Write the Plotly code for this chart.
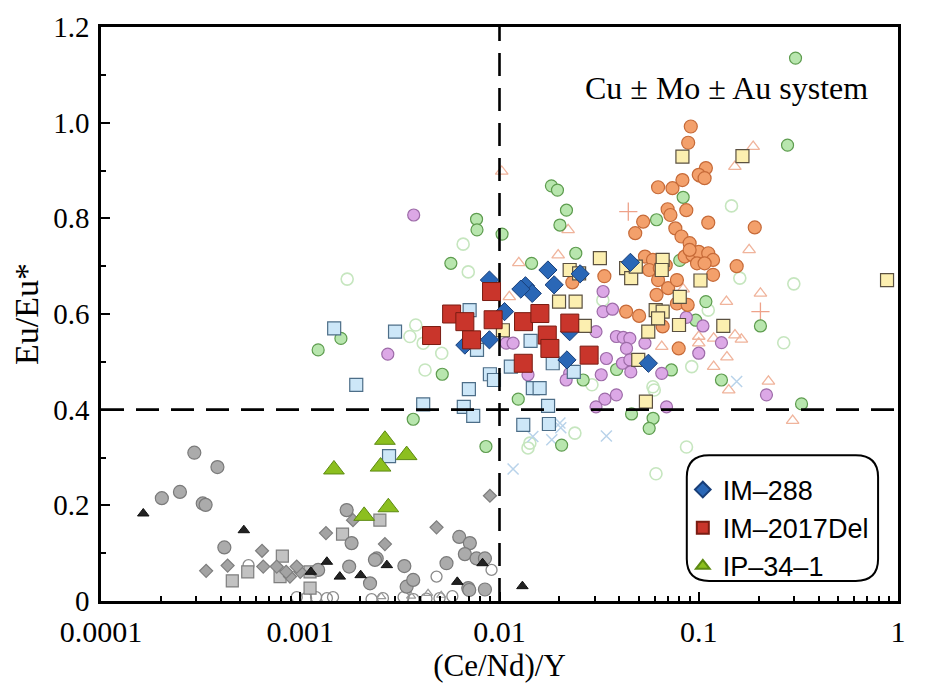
import plotly.graph_objects as go

# ---------------- data ----------------
gray_circ_x = [0.000294, 0.000384, 0.000202, 0.000249, 0.000324, 0.000335, 0.000416, 0.00171, 0.00181,
               0.00242, 0.00176, 0.00224, 0.00333, 0.00342, 0.00369, 0.00542, 0.00628, 0.0071, 0.0067,
               0.00767, 0.00845, 0.00697, 0.00845, 0.00123, 0.00237, 0.00705]
gray_circ_y = [0.310, 0.280, 0.215, 0.228, 0.204, 0.201, 0.112, 0.190, 0.121,
               0.089, 0.072, 0.037, 0.073, 0.030, 0.044, 0.079, 0.134, 0.121, 0.098,
               0.089, 0.089, 0.027, 0.024, 0.065, 0.086, 0.023]

gray_dia_x = [0.000337, 0.000432, 0.000643, 0.000652, 0.000762, 0.000888, 0.001, 0.001346, 0.00266,
              0.00483, 0.00184, 0.00895, 0.00096, 0.00085]
gray_dia_y = [0.063, 0.074, 0.105, 0.072, 0.072, 0.051, 0.061, 0.142, 0.119,
              0.154, 0.169, 0.220, 0.072, 0.061]

gray_sq_x = [0.000456, 0.000545, 0.000813, 0.000792, 0.00112, 0.00112, 0.00163, 0.00251]
gray_sq_y = [0.042, 0.061, 0.094, 0.051, 0.061, 0.027, 0.140, 0.169]

black_tri_x = [0.000163, 0.000521, 0.00136, 0.00113, 0.00158, 0.00201, 0.00272, 0.00614, 0.00822, 0.01303]
black_tri_y = [0.183, 0.148, 0.082, 0.061, 0.051, 0.054, 0.075, 0.040, 0.079, 0.031]

gray_open_x = [0.00055, 0.00483, 0.00912, 0.00096, 0.00107, 0.0012, 0.00136, 0.00146, 0.00228,
               0.0033, 0.0037, 0.005, 0.0058, 0.0043, 0.0026]
gray_open_y = [0.075, 0.051, 0.065, 0.008, 0.006, 0.008, 0.006, 0.008, 0.004,
               0.008, 0.004, 0.006, 0.010, 0.005, 0.006]

gray_otri_x = [0.00255, 0.00438, 0.0051, 0.0036]
gray_otri_y = [0.009, 0.016, 0.012, 0.010]

green_x = [0.00767, 0.00771, 0.0057, 0.00123, 0.0016, 0.00516, 0.00369, 0.0103, 0.01822, 0.01954,
           0.02168, 0.0201, 0.02415, 0.01449, 0.0835, 0.0614, 0.279, 0.1086, 0.204, 0.130,
           0.328, 0.0966, 0.01242, 0.0205, 0.0263, 0.0387, 0.046, 0.059, 0.0564, 0.0729,
           0.0803, 0.306, 0.00855]
green_y = [0.798, 0.776, 0.706, 0.525, 0.549, 0.474, 0.380, 0.767, 0.868, 0.859,
           0.817, 0.786, 0.727, 0.706, 0.844, 0.797, 0.953, 0.626, 0.575, 0.462,
           0.412, 0.587, 0.422, 0.326, 0.462, 0.484, 0.391, 0.382, 0.361, 0.483,
           0.712, 1.135, 0.323]

green_open_x = [0.00172, 0.00657, 0.00697, 0.0038, 0.00355, 0.00513, 0.00423, 0.00414, 0.146, 0.1607,
                0.300, 0.267, 0.0922, 0.1116, 0.0291, 0.0598, 0.033, 0.0142, 0.0239, 0.0868,
                0.061, 0.0139, 0.0589]
green_open_y = [0.673, 0.746, 0.688, 0.577, 0.553, 0.518, 0.483, 0.539, 0.826, 0.675,
                0.663, 0.540, 0.490, 0.608, 0.452, 0.441, 0.629, 0.330, 0.351, 0.322,
                0.266, 0.320, 0.448]

blue_sq_x = [0.00148, 0.00299, 0.00191, 0.00414, 0.00702, 0.00895, 0.00938, 0.00662, 0.00738, 0.00708,
             0.00771, 0.01432, 0.0236, 0.0147, 0.0159, 0.01753, 0.01316, 0.0177, 0.0185, 0.0114, 0.00279]
blue_sq_y = [0.570, 0.563, 0.452, 0.411, 0.443, 0.474, 0.462, 0.406, 0.387, 0.608,
             0.525, 0.544, 0.479, 0.445, 0.445, 0.408, 0.368, 0.370, 0.497, 0.490, 0.303]

blue_x_x = [0.0201, 0.0344, 0.0183, 0.0117, 0.0147, 0.155, 0.0203]
blue_x_y = [0.372, 0.345, 0.337, 0.276, 0.344, 0.459, 0.362]

pink_x = [0.00371, 0.00275, 0.0331, 0.0331, 0.0369, 0.0305, 0.0386, 0.0418, 0.0451, 0.0434,
          0.0344, 0.0414, 0.0451, 0.0456, 0.0324, 0.0386, 0.0338, 0.0305, 0.0689, 0.0652,
          0.0537, 0.0108, 0.0117, 0.0225, 0.0216, 0.0139, 0.105, 0.130, 0.100, 0.2187, 0.0866]
pink_y = [0.807, 0.516, 0.647, 0.605, 0.610, 0.563, 0.553, 0.551, 0.549, 0.528,
          0.507, 0.497, 0.504, 0.479, 0.473, 0.431, 0.422, 0.406, 0.406, 0.476,
          0.539, 0.539, 0.539, 0.476, 0.462, 0.473, 0.575, 0.540, 0.518, 0.431, 0.593]

orange_x = [0.0912, 0.0885, 0.0625, 0.0738, 0.0828, 0.1013, 0.0698, 0.0721, 0.0866, 0.0526,
            0.048, 0.0763, 0.0819, 0.09, 0.085, 0.093, 0.0537, 0.0589, 0.0683, 0.1086,
            0.1, 0.107, 0.1116, 0.191, 0.155, 0.1, 0.1116, 0.118, 0.098, 0.0564,
            0.0637, 0.0625, 0.0702, 0.0777, 0.118, 0.0614, 0.0777, 0.088, 0.0432, 0.0502,
            0.0659, 0.0793, 0.0336, 0.0232, 0.107, 0.09]
orange_y = [0.992, 0.958, 0.865, 0.863, 0.880, 0.889, 0.819, 0.807, 0.817, 0.793,
            0.769, 0.779, 0.762, 0.748, 0.720, 0.723, 0.720, 0.713, 0.702, 0.905,
            0.891, 0.884, 0.791, 0.781, 0.700, 0.730, 0.727, 0.713, 0.706, 0.692,
            0.696, 0.671, 0.654, 0.671, 0.682, 0.640, 0.622, 0.619, 0.605, 0.596,
            0.574, 0.528, 0.679, 0.666, 0.706, 0.734]

yellow_x = [0.0828, 0.0319, 0.1657, 0.881, 0.102, 0.1328, 0.0432, 0.0458, 0.0483, 0.0659,
            0.0652, 0.0225, 0.0251, 0.0199, 0.0241, 0.0268, 0.0608, 0.0659, 0.0625, 0.0796,
            0.0558, 0.0497, 0.0543, 0.0803, 0.0104]
yellow_y = [0.929, 0.717, 0.930, 0.671, 0.670, 0.575, 0.696, 0.675, 0.699, 0.713,
            0.692, 0.692, 0.685, 0.626, 0.626, 0.575, 0.608, 0.605, 0.591, 0.577,
            0.563, 0.504, 0.417, 0.636, 0.566]

otri_x = [0.01026, 0.0221, 0.0125, 0.0197, 0.1876, 0.1518, 0.179, 0.204, 0.1377, 0.152,
          0.1637, 0.1385, 0.1188, 0.1414, 0.2237, 0.296, 0.1, 0.1188, 0.0835, 0.0652, 0.1, 0.0112]
otri_y = [0.898, 0.776, 0.707, 0.723, 0.950, 0.908, 0.734, 0.643, 0.626, 0.556,
          0.547, 0.510, 0.490, 0.441, 0.459, 0.377, 0.539, 0.549, 0.652, 0.532, 0.553, 0.636]

plus_x = [0.0443, 0.204]
plus_y = [0.814, 0.605]

im288_x = [0.0089, 0.0106, 0.0089, 0.0067, 0.0135, 0.0146, 0.0175, 0.0188, 0.0254, 0.0225,
           0.0218, 0.0454, 0.0559, 0.0128]
im288_y = [0.671, 0.605, 0.546, 0.535, 0.659, 0.643, 0.692, 0.661, 0.684, 0.563,
           0.504, 0.708, 0.497, 0.652]

im2017_x = [0.00456, 0.00575, 0.0067, 0.00724, 0.00912, 0.00929, 0.01316, 0.0132, 0.01595,
            0.01737, 0.0179, 0.02253, 0.02817]
im2017_y = [0.555, 0.600, 0.584, 0.546, 0.647, 0.588, 0.497, 0.584, 0.601,
            0.556, 0.528, 0.581, 0.514]

ip34_x = [0.00266, 0.00342, 0.001476, 0.00253, 0.002093, 0.002767]
ip34_y = [0.337, 0.305, 0.275, 0.281, 0.178, 0.196]

x_tick_vals = [0.0001, 0.001, 0.01, 0.1, 1]
x_tick_text = ["0.0001", "0.001", "0.01", "0.1", "1"]
y_tick_vals = [0, 0.2, 0.4, 0.6, 0.8, 1.0, 1.2]
y_tick_text = ["0", "0.2", "0.4", "0.6", "0.8", "1.0", "1.2"]
x_threshold = 0.01
y_threshold = 0.4
x_range_data = [0.0001, 1]
y_range_data = [0, 1.2]

# ---------------- figure ----------------
fig = go.Figure()


def bg(x, y, symbol, size, fill, edge, lw=1.2):
    fig.add_trace(go.Scatter(
        x=x, y=y, mode="markers", showlegend=False, hoverinfo="skip",
        marker=dict(symbol=symbol, size=size, color=fill, line=dict(color=edge, width=lw))))


bg(green_open_x, green_open_y, "circle-open", 12, "#c6e6bf", "#c6e6bf", 1.6)
bg(otri_x, otri_y, "triangle-up-open", 11, "#f0b49c", "#f0b49c", 1.3)
bg(blue_x_x, blue_x_y, "x-thin-open", 11, "#b9d3ea", "#b9d3ea", 1.5)
bg(plus_x, plus_y, "cross-thin-open", 13, "#eea28a", "#eea28a", 1.3)
bg(gray_open_x, gray_open_y, "circle-open", 11, "#8a8a8a", "#8a8a8a", 1.3)
bg(gray_otri_x, gray_otri_y, "triangle-up-open", 8, "#9a9a9a", "#9a9a9a", 1.2)
bg(gray_sq_x, gray_sq_y, "square", 12, "#c2c2c2", "#7e7e7e")
bg(gray_dia_x, gray_dia_y, "diamond", 10, "#a3a3a3", "#7e7e7e")
bg(gray_circ_x, gray_circ_y, "circle", 13, "#ababab", "#7a7a7a")
bg(black_tri_x, black_tri_y, "triangle-up", 10, "#222222", "#111111", 1)
bg(green_x, green_y, "circle", 12, "#b8e6ae", "#5d9c4e")
bg(pink_x, pink_y, "circle", 12, "#dca8e6", "#9d6ba8")
bg(orange_x, orange_y, "circle", 13, "#f3a06b", "#c66a38")
bg(blue_sq_x, blue_sq_y, "square", 13, "#cde7f8", "#4d6e88")
bg(yellow_x, yellow_y, "square", 13, "#fcefb0", "#5a5040")

dash = dict(color="black", width=2.6, dash="23px,12px")
fig.add_trace(go.Scatter(x=[x_threshold, x_threshold], y=y_range_data, mode="lines",
                         line=dash, showlegend=False, hoverinfo="skip"))
fig.add_trace(go.Scatter(x=x_range_data, y=[y_threshold, y_threshold], mode="lines",
                         line=dash, showlegend=False, hoverinfo="skip"))

fig.add_trace(go.Scatter(x=im288_x, y=im288_y, mode="markers", name="IM\u2013288", legendgroup="a",
                         marker=dict(symbol="diamond", size=14, color="#2a67b6",
                                     line=dict(color="#183e78", width=1))))
fig.add_trace(go.Scatter(x=im2017_x, y=im2017_y, mode="markers", name="IM\u20132017Del", legendgroup="b",
                         marker=dict(symbol="square", size=18, color="#c9352b",
                                     line=dict(color="#7a1c12", width=1))))
fig.add_trace(go.Scatter(x=ip34_x, y=ip34_y, mode="markers", name="IP\u201334\u20131", legendgroup="c",
                         marker=dict(symbol="triangle-up", size=18, color="#8cbf1f",
                                     line=dict(color="#5d8a12", width=1))))

serif = "Liberation Serif, Times New Roman, serif"

fig.update_layout(
    width=923, height=679,
    margin=dict(l=93, r=33, t=19, b=86),
    paper_bgcolor="white", plot_bgcolor="white",
    font=dict(family=serif, color="black"),
    showlegend=True,
    legend=dict(x=0.73, y=0.236, xanchor="left", yanchor="top",
                bgcolor="rgba(0,0,0,0)", borderwidth=0,
                font=dict(family="Liberation Sans, Arial, sans-serif", size=27, color="black"),
                itemsizing="constant", tracegroupgap=12, traceorder="normal"),
    xaxis=dict(type="log", range=[-4, 0], tickmode="array", tickvals=x_tick_vals, ticktext=x_tick_text,
               ticks="inside", ticklen=9, tickwidth=2, tickcolor="black",
               minor=dict(ticks="inside", ticklen=5, tickwidth=1.5, tickcolor="black", tickmode="array",
                          tickvals=[m * 10.0 ** e for e in range(-4, 0) for m in range(2, 10)]),
               showline=True, linewidth=2.5, linecolor="black", mirror=True,
               showgrid=False, zeroline=False, automargin=False, ticklabelstandoff=2,
               tickfont=dict(family=serif, size=30),
               title=dict(text="(Ce/Nd)/Y", font=dict(family=serif, size=31), standoff=6)),
    yaxis=dict(range=[0, 1.2], tickmode="array", tickvals=y_tick_vals, ticktext=y_tick_text,
               ticks="inside", ticklen=9, tickwidth=2, tickcolor="black",
               minor=dict(ticks="inside", ticklen=5, tickwidth=1.5, tickcolor="black", dtick=0.1, tick0=0),
               showline=True, linewidth=2.5, linecolor="black", mirror=True,
               showgrid=False, zeroline=False, ticklabelstandoff=3, automargin=False,
               tickfont=dict(family=serif, size=29),
               title=dict(text="Eu/Eu*", font=dict(family=serif, size=34), standoff=14)),
    annotations=[dict(text="Cu \u00b1 Mo \u00b1 Au system", xref="paper", yref="paper",
                      x=0.785, y=0.894, xanchor="center", yanchor="middle",
                      showarrow=False, font=dict(family=serif, size=32))],
    shapes=[dict(type="path", xref="paper", yref="paper",
                 path="M 0.763,0.254 L 0.947,0.254 Q 0.975,0.254 0.975,0.216 L 0.975,0.073 "
                      "Q 0.975,0.035 0.947,0.035 L 0.763,0.035 Q 0.735,0.035 0.735,0.073 "
                      "L 0.735,0.216 Q 0.735,0.254 0.763,0.254 Z",
                 line=dict(color="black", width=2), fillcolor="rgba(255,255,255,0)", layer="above")],
)

fig.write_html("out.html")
